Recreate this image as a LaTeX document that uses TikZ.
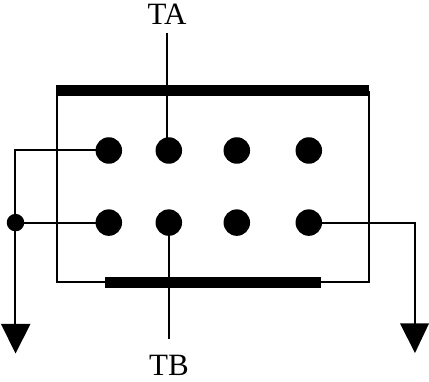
\documentclass[tikz,border=0pt]{standalone}
\usepackage{fontspec}
\setmainfont{Liberation Serif}
\begin{document}
\begin{tikzpicture}[x=1pt,y=-1pt,
  wire/.style={draw=black,line width=2pt},
  bigdot/.style={circle,fill=black,inner sep=0pt,minimum size=26.5pt},
  smalldot/.style={circle,fill=black,inner sep=0pt,minimum size=17.5pt},
  bar/.style={rectangle,fill=black,inner sep=0pt},
  lbl/.style={inner sep=0pt,font=\fontsize{31}{31}\selectfont,anchor=base}]
\useasboundingbox (0,0) rectangle (429,382);
\node[bar,minimum width=313pt,minimum height=11.5pt] (top) at (212.5,90.5) {};
\node[bar,minimum width=216pt,minimum height=11.5pt] (bot) at (213,282.5) {};
\foreach \n/\x in {1/108.8,2/168.8,3/236.8,4/308.8}{
  \node[bigdot] (a\n) at (\x,150.5) {};
  \node[bigdot] (b\n) at (\x,222.6) {};
}
\node[smalldot] (j) at (15.5,222.6) {};
\node[lbl] (ta) at (167,25) {TA};
\node[lbl] (tb) at (169,376) {TB};
\coordinate (tatop) at (167,33);
\coordinate (tbend) at (169,339);
\coordinate (lcorner) at (15,150);
\coordinate (ltip) at (15,326);
\coordinate (lrow) at (15,223);
\coordinate (rcorner) at (415,223);
\coordinate (rtip) at (415,326);
\coordinate (tl) at (57,91);
\coordinate (tr) at (369,91);
\coordinate (bl) at (57,282);
\coordinate (br) at (369,282);
\draw[wire] (tatop) -- (tatop |- a2.center);
\draw[wire] (tbend |- b2.center) -- (tbend);
\draw[wire] (tl) -- (bl) -- (bot.west |- bl);
\draw[wire] (tr) -- (br) -- (bot.east |- br);
\draw[wire] (a1.center |- lcorner) -- (lcorner) -- (ltip);
\draw[wire] (b1.center |- lrow) -- (lrow);
\draw[wire] (b4.center |- rcorner) -- (rcorner) -- (rtip);
\fill (1,324) -- (30.5,324) -- (15.5,353.5) -- cycle;
\fill (400,323.5) -- (429,323.5) -- (415,353) -- cycle;
\end{tikzpicture}
\end{document}
